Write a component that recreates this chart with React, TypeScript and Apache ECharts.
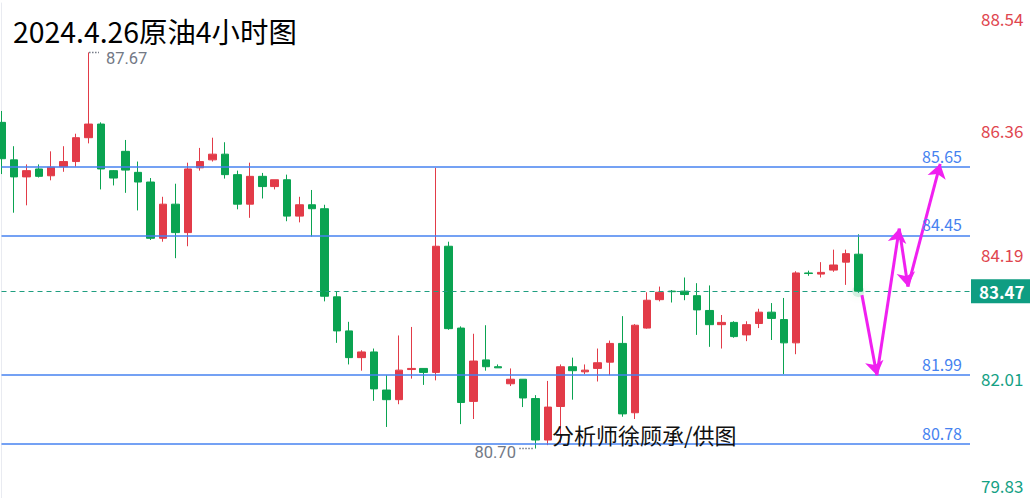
import React, { useEffect, useRef } from 'react';
import * as echarts from 'echarts';

// ---- data ----
const opens = [
  86.44, 85.78, 85.48, 85.62, 85.50, 85.66, 85.75, 86.17, 86.41, 85.59,
  85.93, 85.56, 85.39, 84.40, 85.00, 84.50, 85.64, 85.78, 85.88, 85.52,
  85.00, 85.49, 85.31, 85.43, 84.79, 84.99, 84.92, 83.37, 82.77, 82.30,
  82.40, 81.73, 81.56, 82.09, 82.11, 82.04, 84.26, 82.82, 81.53, 82.26,
  82.14, 81.84, 81.92, 81.58, 80.85, 81.44, 82.14, 82.05, 82.11, 82.22,
  82.55, 81.33, 82.82, 83.32, 83.47, 83.47, 83.39, 83.13, 82.88, 82.92,
  82.70, 82.90, 83.10, 82.97, 82.56, 83.79, 83.77, 83.84, 83.98, 84.12,
];
const closes = [
  85.80, 85.48, 85.59, 85.49, 85.65, 85.75, 86.17, 86.41, 85.62, 85.46,
  85.60, 85.39, 84.40, 85.00, 84.50, 85.62, 85.75, 85.88, 85.52, 85.00,
  85.49, 85.31, 85.43, 84.79, 84.99, 84.92, 83.38, 82.77, 82.30, 82.40,
  81.75, 81.56, 82.08, 82.11, 82.04, 84.26, 82.81, 81.51, 82.24, 82.14,
  82.12, 81.92, 81.59, 80.85, 81.43, 82.14, 82.07, 82.08, 82.21, 82.55,
  81.31, 82.87, 83.31, 83.45, 83.46, 83.41, 83.14, 82.88, 82.92, 82.67,
  82.88, 83.10, 82.99, 82.56, 83.79, 83.78, 83.80, 83.93, 84.13, 83.47,
];
const lows = [
  85.53, 84.85, 84.98, 85.47, 85.42, 85.57, 85.66, 86.07, 85.26, 85.33,
  85.20, 84.89, 84.37, 84.34, 84.05, 84.26, 85.59, 85.75, 85.45, 84.91,
  84.76, 85.10, 85.26, 84.70, 84.68, 84.43, 83.29, 82.56, 82.18, 82.07,
  81.54, 81.08, 81.48, 81.93, 81.82, 81.90, 82.79, 81.13, 81.22, 82.07,
  82.12, 81.80, 81.43, 80.70, 80.76, 80.80, 81.56, 82.01, 81.88, 81.99,
  81.26, 81.22, 82.81, 83.29, 83.27, 83.31, 82.70, 82.49, 82.46, 82.65,
  82.59, 82.82, 82.61, 82.01, 82.36, 83.74, 83.71, 83.81, 83.58, 83.44,
];
const highs = [
  86.64, 86.02, 85.70, 85.70, 85.93, 86.02, 86.24, 87.67, 86.44, 85.60,
  86.13, 85.75, 85.46, 85.13, 85.36, 85.73, 85.99, 86.17, 86.09, 85.59,
  85.73, 85.55, 85.43, 85.52, 85.13, 85.25, 84.99, 83.47, 82.93, 82.43,
  82.46, 81.99, 82.69, 82.84, 82.11, 85.64, 84.34, 82.85, 82.72, 82.87,
  82.18, 82.11, 81.92, 81.64, 81.89, 82.18, 82.30, 82.18, 82.46, 82.60,
  83.03, 82.89, 83.45, 83.55, 83.49, 83.71, 83.61, 83.57, 83.05, 82.94,
  82.94, 83.16, 83.26, 83.35, 83.82, 83.83, 83.98, 84.20, 84.20, 84.47,
];
const futureSlots = 9;
const yTicks = [79.83, 82.01, 84.19, 86.36, 88.54];
const levels = [85.65, 84.45, 81.99, 80.78];
const currentPrice = 83.47;
// projected path (x in bar index units, y in price)
const arrowX = [69.3, 70.5, 72.3, 73.0, 75.6];
const arrowY = [83.40, 81.99, 84.57, 83.55, 85.71];
const titleText = '2024.4.26原油4小时图';
const creditText = '分析师徐顾承/供图';

const FONT = '"Noto Sans CJK SC", "Noto Sans", sans-serif';
const NUM_FONT = 'Roboto, "Noto Sans", sans-serif';
const RED = '#e23b48';
const GREEN = '#0aa351';
const AXIS_RED = '#e0464f';
const AXIS_GREEN = '#14a184';
const BLUE = '#4682f0';
const MAGENTA = '#f020f0';
const GRAY = '#737985';

export default function App() {
  const ref = useRef<HTMLDivElement>(null);
  useEffect(() => {
    const chart = echarts.init(ref.current!, null, { renderer: 'svg' });
    const cats = [
      ...opens.map((_, i) => `K${i + 1}`),
      ...Array.from({ length: futureSlots }, (_, i) => `F${i + 1}`),
    ];
    const ohlc = opens.map((o, i) => [o, closes[i], lows[i], highs[i]]);
    let maxI = 0;
    highs.forEach((h, i) => { if (h > highs[maxI]) maxI = i; });
    let minI = 0;
    lows.forEach((l, i) => { if (l < lows[minI]) minI = i; });
    const arrowSegs = arrowX.slice(1).map((x, i) => ({
      coords: [[arrowX[i], arrowY[i]], [x, arrowY[i + 1]]],
    }));
    const yMin = yTicks[0];
    const yMax = yTicks[yTicks.length - 1];
    // dotted leaders next to the extreme-value labels (in bar-index units)
    const highLeader = [[maxI + 0.05, highs[maxI]], [maxI + 0.85, highs[maxI]]];
    const lowLeader = [[minI - 1.3, lows[minI]], [minI - 0.1, lows[minI]]];

    const option: any = {
      animation: false,
      textStyle: { fontFamily: FONT },
      grid: { left: 1.5, top: 3, width: 968.5, height: 498 },
      xAxis: [
        { type: 'category', data: cats, boundaryGap: false, show: false },
        { type: 'value', min: 0, max: cats.length - 1, show: false },
      ],
      yAxis: {
        type: 'value',
        position: 'right',
        min: yMin,
        max: yMax,
        splitLine: { show: false },
        axisLine: { show: true, lineStyle: { color: '#e9ebf1', width: 1 } },
        axisTick: { show: false },
        axisLabel: {
          customValues: yTicks,
          margin: 11,
          formatter: (v: number) => {
            const c = v > currentPrice ? 'r' : 'g';
            const p = v === yMax ? 't' : v === yMin ? 'b' : 'm';
            return `{${c}${p}|${v.toFixed(2)}}`;
          },
          rich: {
            rt: { color: AXIS_RED, fontSize: 17, fontFamily: FONT, padding: [30, 0, 0, 0] },
            rm: { color: AXIS_RED, fontSize: 17, fontFamily: FONT, padding: [8, 0, 0, 0] },
            gm: { color: AXIS_GREEN, fontSize: 17, fontFamily: FONT, padding: [8, 0, 0, 0] },
            gb: { color: AXIS_GREEN, fontSize: 17, fontFamily: FONT, padding: [0, 0, 26, 0] },
          },
        },
      },
      graphic: [
        {
          type: 'text', left: 13, top: 16, z: 10,
          style: { text: titleText, fontSize: 28.4, fill: '#000', fontFamily: FONT },
        },
        {
          type: 'text', left: 552, top: 423, z: 10,
          style: { text: creditText, fontSize: 22, fill: '#111', fontFamily: FONT },
        },
      ],
      series: [
        {
          type: 'candlestick',
          data: ohlc,
          barWidth: 8,
          clip: false,
          itemStyle: {
            color: RED, color0: GREEN, borderColor: RED, borderColor0: GREEN, borderWidth: 1,
          },
          markLine: {
            silent: true,
            symbol: ['none', 'none'],
            data: [
              ...levels.map((v) => ({
                yAxis: v,
                lineStyle: { color: BLUE, width: 1.5, type: 'solid' },
                label: {
                  show: true, position: 'insideEndTop', formatter: () => v.toFixed(2),
                  color: BLUE, fontSize: 16, fontFamily: FONT, distance: [8, 3],
                },
              })),
              {
                yAxis: currentPrice,
                lineStyle: { color: '#1f9e80', width: 1, type: [5, 4] },
                label: {
                  show: true, position: 'end', formatter: () => currentPrice.toFixed(2),
                  color: '#fff', backgroundColor: '#0f9d82', padding: [4, 7, 3, 8],
                  fontSize: 17, fontWeight: 'bold', fontFamily: FONT, distance: 1,
                },
              },
            ],
          },
          markPoint: {
            silent: true,
            symbol: 'circle',
            symbolSize: 1,
            itemStyle: { color: 'rgba(0,0,0,0)' },
            data: [
              {
                coord: [maxI, highs[maxI]], value: highs[maxI],
                label: {
                  show: true, position: 'right', distance: 17, offset: [0, 6.5],
                  formatter: (p: any) => p.value.toFixed(2),
                  fontSize: 16.5, color: GRAY, fontFamily: NUM_FONT,
                },
              },
              {
                coord: [minI, lows[minI]], value: lows[minI],
                label: {
                  show: true, position: 'left', distance: 19, offset: [0, 4],
                  formatter: (p: any) => p.value.toFixed(2),
                  fontSize: 16.5, color: GRAY, fontFamily: NUM_FONT,
                },
              },
            ],
          },
        },
        {
          type: 'line',
          xAxisIndex: 1,
          data: highLeader,
          symbol: 'none',
          silent: true,
          lineStyle: { color: GRAY, width: 1.5, type: [1.5, 1.5] },
        },
        {
          type: 'line',
          xAxisIndex: 1,
          data: lowLeader,
          symbol: 'none',
          silent: true,
          lineStyle: { color: GRAY, width: 1.5, type: [1.5, 1.5] },
        },
        {
          type: 'scatter',
          data: [[opens.length - 1, currentPrice]],
          symbolSize: 12,
          silent: true,
          itemStyle: {
            color: 'rgba(10,163,81,0.18)', shadowBlur: 8, shadowColor: 'rgba(10,163,81,0.45)',
          },
        },
        {
          type: 'lines',
          coordinateSystem: 'cartesian2d',
          xAxisIndex: 1,
          yAxisIndex: 0,
          silent: true,
          symbol: ['none', 'arrow'],
          symbolSize: 14,
          lineStyle: { color: MAGENTA, width: 3, opacity: 1, curveness: 0 },
          data: arrowSegs,
          z: 5,
        },
      ],
    };
    chart.setOption(option);
    return () => chart.dispose();
  }, []);
  return (
    <div
      ref={ref}
      style={{ position: 'absolute', left: 0, top: 0, width: 1030, height: 498, background: '#fff' }}
    />
  );
}
